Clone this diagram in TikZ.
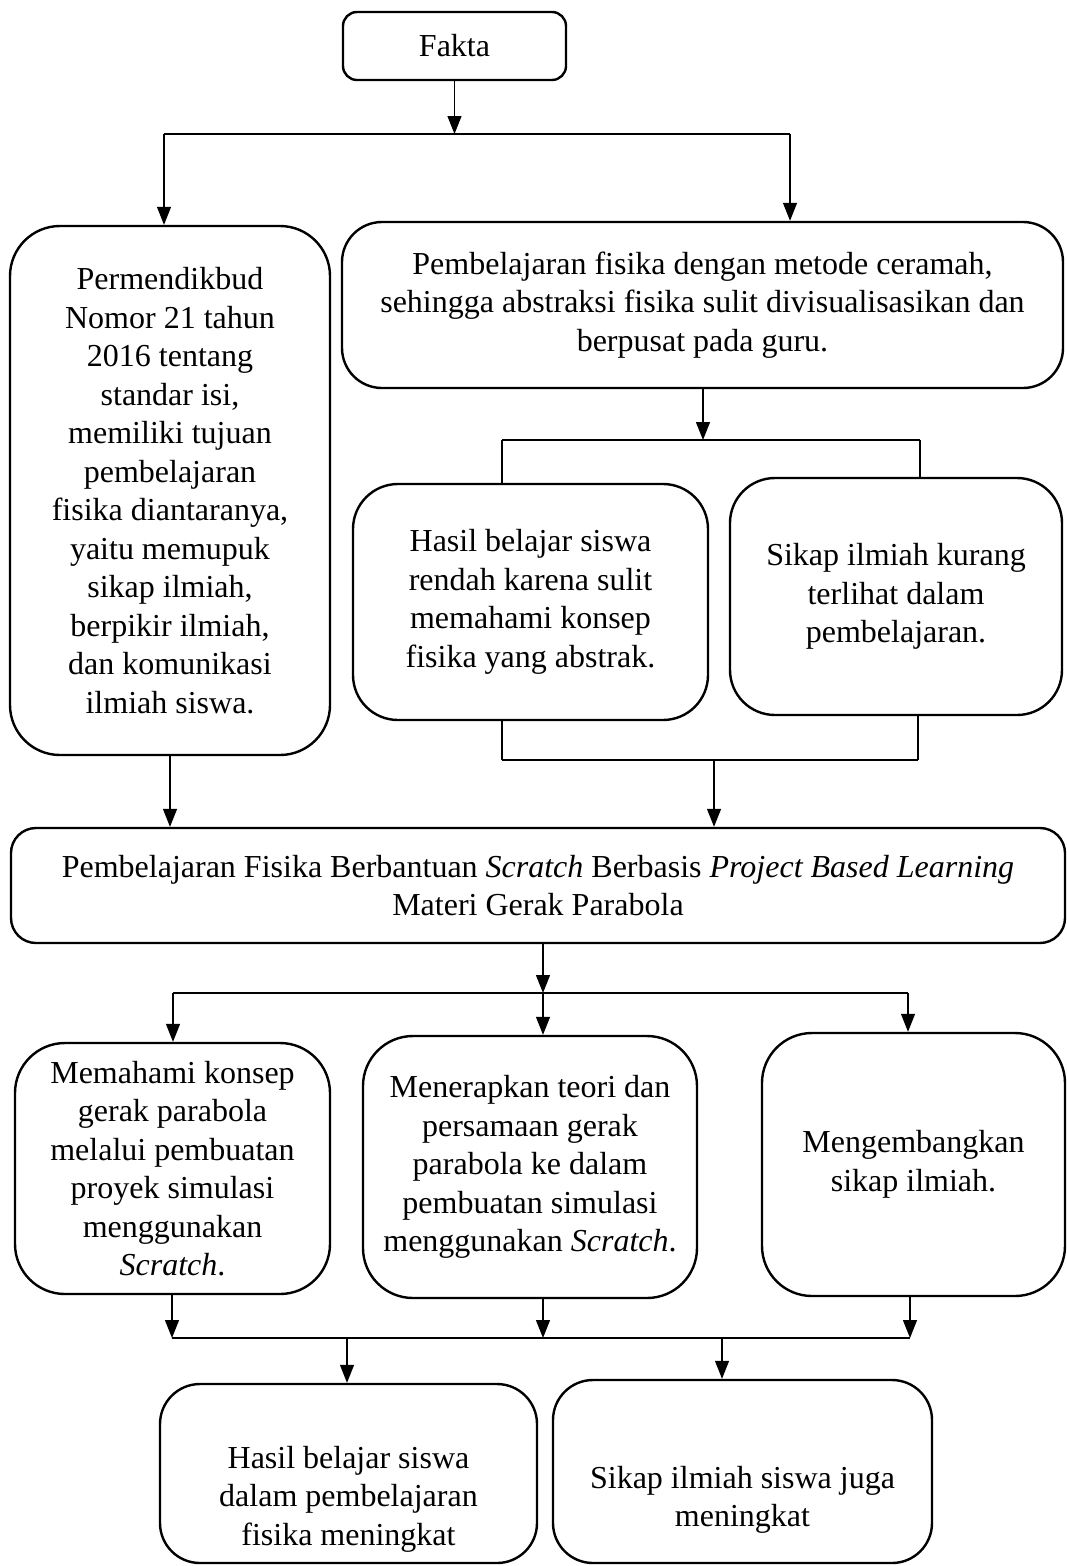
\documentclass[tikz,border=0pt]{standalone}
\usepackage{fontspec}
\setmainfont{Liberation Serif}
\usetikzlibrary{arrows.meta}
\newcommand\bodyfont{\fontsize{32}{38.5}\selectfont}
\tikzset{
  box/.style={draw, line width=2.4pt, rounded corners=#1, inner sep=0pt, align=center, font=\bodyfont},
  box/.default=45pt,
  txt/.style={inner sep=0pt, align=center, font=\bodyfont},
  ln/.style={line width=1.3pt},
  arr/.style={ln, -{Triangle[length=18pt,width=14pt]}}
}
\begin{document}
\begin{tikzpicture}[x=1pt,y=-1pt]
\useasboundingbox[fill=white] (0,0) rectangle (1067,1566);

% Boxes
\node[box=14pt, minimum width=223pt, minimum height=68pt] (fakta) at (454.5,46) {Fakta};
\node[box=50pt, minimum width=320pt, minimum height=529pt] (L) at (170,490.5)
  {Permendikbud\\Nomor 21 tahun\\2016 tentang\\standar isi,\\memiliki tujuan\\pembelajaran\\fisika diantaranya,\\yaitu memupuk\\sikap ilmiah,\\berpikir ilmiah,\\dan komunikasi\\ilmiah siswa.};
\node[box=40pt, minimum width=721pt, minimum height=166pt] (R) at (702.5,305)
  {Pembelajaran fisika dengan metode ceramah,\\sehingga abstraksi fisika sulit divisualisasikan dan\\berpusat pada guru.};
\node[box=45pt, minimum width=355pt, minimum height=236pt] (H1) at (530.5,602)
  {Hasil belajar siswa\\rendah karena sulit\\memahami konsep\\fisika yang abstrak.};
\node[box=45pt, minimum width=332pt, minimum height=237pt] (S1) at (896,596.5)
  {Sikap ilmiah kurang\\terlihat dalam\\pembelajaran.};
\node[box=25pt, minimum width=1054pt, minimum height=115pt] (B) at (538,885.5)
  {Pembelajaran Fisika Berbantuan \textit{Scratch} Berbasis \textit{Project Based Learning}\\Materi Gerak Parabola};
\node[box=50pt, minimum width=315pt, minimum height=251pt] (M1) at (172.5,1168.5)
  {Memahami konsep\\gerak parabola\\melalui pembuatan\\proyek simulasi\\menggunakan\\\textit{Scratch}.};
\node[box=50pt, minimum width=334pt, minimum height=262pt] (M2) at (530,1167)
  {Menerapkan teori dan\\persamaan gerak\\parabola ke dalam\\pembuatan simulasi\\menggunakan \textit{Scratch}.};
\node[box=50pt, minimum width=303pt, minimum height=263pt] (M3) at (913.5,1164.5)
  {Mengembangkan\\sikap ilmiah.};
\node[box=40pt, minimum width=377pt, minimum height=179pt] (F1) at (348.5,1473.5) {};
\node[txt] (F1t) at (348.5,1499) {Hasil belajar siswa\\dalam pembelajaran\\fisika meningkat};
\node[box=40pt, minimum width=379pt, minimum height=183pt] (F2) at (742.5,1471.5) {};
\node[txt] (F2t) at (742.5,1500) {Sikap ilmiah siswa juga\\meningkat};

% Junction coordinates
\coordinate (j1) at (454.5,134);
\coordinate (j1l) at (164,134);
\coordinate (j1r) at (790,134);
\coordinate (j2) at (703,440);
\coordinate (j2l) at (502,440);
\coordinate (j2r) at (920,440);
\coordinate (j3l) at (502,760);
\coordinate (j3r) at (918,760);
\coordinate (j3) at (714,760);
\coordinate (j4) at (543,993);
\coordinate (j4l) at (173,993);
\coordinate (j4r) at (908,993);
\coordinate (j5l) at (172,1338);
\coordinate (j5r) at (910,1338);
\coordinate (j5a) at (347,1338);
\coordinate (j5b) at (722,1338);

% Fakta -> split
\draw[arr] (fakta.south) -- (j1);
\draw[ln] (j1l) -- (j1r);
\draw[arr] (j1l) -- (j1l |- L.north);
\draw[arr] (j1r) -- (j1r |- R.north);

% R -> split into H1, S1
\draw[arr] (R.south -| j2) -- (j2);
\draw[ln] (j2l) -- (j2r);
\draw[ln] (j2l) -- (j2l |- H1.north);
\draw[ln] (j2r) -- (j2r |- S1.north);

% H1, S1 -> merge -> B
\draw[ln] (j3l |- H1.south) -- (j3l);
\draw[ln] (j3r |- S1.south) -- (j3r);
\draw[ln] (j3l) -- (j3r);
\draw[arr] (j3) -- (j3 |- B.north);

% L -> B
\draw[arr] (L.south) -- (B.north -| L.south);

% B -> split
\draw[arr] (B.south -| j4) -- (j4);
\draw[ln] (j4l) -- (j4r);
\draw[arr] (j4l) -- (j4l |- M1.north);
\draw[arr] (j4) -- (j4 |- M2.north);
\draw[arr] (j4r) -- (j4r |- M3.north);

% M -> merge
\draw[arr] (M1.south -| j5l) -- (j5l);
\draw[arr] (M2.south -| j4) -- (j4 |- j5l);
\draw[arr] (M3.south -| j5r) -- (j5r);
\draw[ln] (j5l) -- (j5r);
\draw[arr] (j5a) -- (j5a |- F1.north);
\draw[arr] (j5b) -- (j5b |- F2.north);
\end{tikzpicture}
\end{document}
